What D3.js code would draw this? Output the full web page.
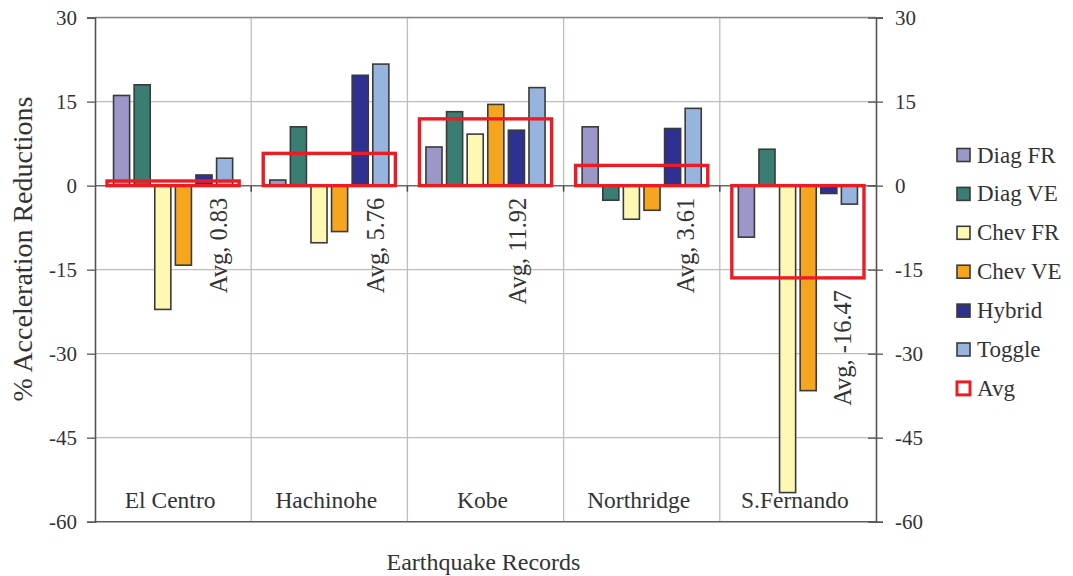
<!DOCTYPE html>
<html>
<head>
<meta charset="utf-8">
<script src="https://cdn.jsdelivr.net/npm/d3@7"></script>
<style>
  html, body { margin: 0; padding: 0; background: #ffffff; }
  svg { display: block; }
  text { font-family: "Liberation Serif", "Times New Roman", serif; fill: #333333; }
</style>
</head>
<body>
<svg id="chart" width="1073" height="576"></svg>
<script>
// ---- data ----
const categories = ["El Centro", "Hachinohe", "Kobe", "Northridge", "S.Fernando"];
const seriesNames = ["Diag FR", "Diag VE", "Chev FR", "Chev VE", "Hybrid", "Toggle"];
const diagFR = [16.1, 1.0, 6.9, 10.5, -9.2];
const diagVE = [18.0, 10.5, 13.2, -2.6, 6.5];
const chevFR = [-22.1, -10.2, 9.2, -6.0, -54.8];
const chevVE = [-14.2, -8.2, 14.5, -4.4, -36.6];
const hybrid = [1.9, 19.7, 9.9, 10.2, -1.4];
const toggle = [4.9, 21.7, 17.5, 13.8, -3.3];
const avgValues = [0.83, 5.76, 11.92, 3.61, -16.47];
const yTicks = [30, 15, 0, -15, -30, -45, -60];

const seriesValues = [diagFR, diagVE, chevFR, chevVE, hybrid, toggle];
const seriesColors = ["#9b97c9", "#3a7d72", "#fff8b2", "#f6a51e", "#2e3192", "#97b4df"];
const avgColor = "#ec1c24";

// ---- layout ----
const plotL = 95, plotR = 876, plotT = 17.6, plotB = 521.7;
const svg = d3.select("#chart");

const x = d3.scaleBand().domain(categories).range([plotL, plotR]).paddingInner(0).paddingOuter(0);
const xs = d3.scaleBand().domain(seriesNames).range([0, x.bandwidth()]).paddingInner(0.22).paddingOuter(0.9);
const xa = d3.scaleBand().domain(["Avg"]).range([0, x.bandwidth()]).paddingInner(0).paddingOuter(0.091);
const y = d3.scaleLinear().domain([-60, 30]).range([plotB, plotT]);
const fmtTick = d => String(d);
const fmtAvg = d => (d < 0 ? "-" : "") + Math.abs(d).toFixed(2);

// gridlines
const grid = svg.append("g");
grid.selectAll("line.h").data(yTicks.filter(d => d !== 0 && d !== -60)).join("line")
  .attr("x1", plotL).attr("x2", plotR)
  .attr("y1", d => y(d)).attr("y2", d => y(d))
  .attr("stroke", "#c4bcb8").attr("stroke-width", 1.3);
grid.selectAll("line.v").data(categories.slice(1)).join("line")
  .attr("x1", d => x(d)).attr("x2", d => x(d))
  .attr("y1", plotT).attr("y2", plotB)
  .attr("stroke", "#c4bcb8").attr("stroke-width", 1.3);

// bars
const barData = [];
categories.forEach((c, ci) => {
  seriesNames.forEach((s, si) => {
    barData.push({ c, s, v: seriesValues[si][ci], color: seriesColors[si] });
  });
});
svg.append("g").selectAll("rect").data(barData).join("rect")
  .attr("x", d => x(d.c) + xs(d.s))
  .attr("width", xs.bandwidth())
  .attr("y", d => y(Math.max(0, d.v)))
  .attr("height", d => Math.abs(y(d.v) - y(0)))
  .attr("fill", d => d.color)
  .attr("stroke", "#3a3a3a").attr("stroke-width", 1.6);

// axes lines
svg.append("line").attr("x1", plotL).attr("x2", plotR).attr("y1", y(0)).attr("y2", y(0))
  .attr("stroke", "#6e6a68").attr("stroke-width", 1.5);
svg.append("line").attr("x1", plotL).attr("x2", plotR).attr("y1", plotB).attr("y2", plotB)
  .attr("stroke", "#5a5a5a").attr("stroke-width", 1.6);
svg.append("line").attr("x1", plotL).attr("x2", plotR).attr("y1", plotT).attr("y2", plotT)
  .attr("stroke", "#8a8684").attr("stroke-width", 1.5);
// category ticks on zero line
svg.append("g").selectAll("line").data(categories.slice(1)).join("line")
  .attr("x1", d => x(d)).attr("x2", d => x(d))
  .attr("y1", y(0)).attr("y2", y(0) + 6)
  .attr("stroke", "#4a4a4a").attr("stroke-width", 1.5);

// avg boxes
svg.append("g").selectAll("rect").data(avgValues).join("rect")
  .attr("x", (d, i) => x(categories[i]) + xa("Avg"))
  .attr("width", xa.bandwidth())
  .attr("y", d => y(Math.max(0, d)))
  .attr("height", d => Math.abs(y(d) - y(0)))
  .attr("fill", "none")
  .attr("stroke", avgColor).attr("stroke-width", 3.4);

// left axis
const yAxisL = d3.axisLeft(y).tickValues(yTicks).tickSize(8).tickPadding(10).tickFormat(fmtTick);
const gL = svg.append("g").attr("transform", `translate(${plotL},0)`).call(yAxisL);
gL.select(".domain").attr("stroke", "#555").attr("stroke-width", 1.6);
gL.selectAll(".tick line").attr("stroke", "#555").attr("stroke-width", 1.3);
gL.selectAll(".tick text").attr("font-size", 21).attr("fill", "#333");

// right axis
const yAxisR = d3.axisRight(y).tickValues(yTicks).tickSize(7).tickPadding(12).tickFormat(fmtTick);
const gR = svg.append("g").attr("transform", `translate(${plotR},0)`).call(yAxisR);
gR.select(".domain").attr("stroke", "#555").attr("stroke-width", 1.6);
gR.selectAll(".tick line").attr("stroke", "#555").attr("stroke-width", 1.3).attr("x1", -8);
gR.selectAll(".tick text").attr("font-size", 21).attr("fill", "#333");

// category labels
svg.append("g").selectAll("text").data(categories).join("text")
  .attr("x", d => x(d) + x.bandwidth() / 2 - 3)
  .attr("y", 508)
  .attr("text-anchor", "middle")
  .attr("font-size", 23.5)
  .text(d => d);

// avg labels
const avgLabelDx = [45, 46, 32, 44, 45];
svg.append("g").selectAll("text").data(avgValues).join("text")
  .attr("transform", (d, i) => `translate(${x(categories[i]) + x.bandwidth() / 2 + avgLabelDx[i]},${y(Math.min(0, d)) + 12}) rotate(-90)`)
  .attr("text-anchor", "end")
  .attr("dominant-baseline", "central")
  .attr("font-size", 24.5)
  .text(d => `Avg, ${fmtAvg(d)}`);

// axis titles
svg.append("text").attr("x", (plotL + plotR) / 2 - 2).attr("y", 570)
  .attr("text-anchor", "middle").attr("font-size", 24).text("Earthquake Records");
svg.append("text").attr("transform", `translate(22,249) rotate(-90)`)
  .attr("text-anchor", "middle").attr("dominant-baseline", "central")
  .attr("font-size", 28).text("% Acceleration Reductions");

// legend
const legendItems = seriesNames.map((s, i) => ({ name: s, color: seriesColors[i], avg: false }))
  .concat([{ name: "Avg", color: "none", avg: true }]);
const lg = svg.append("g").selectAll("g").data(legendItems).join("g")
  .attr("transform", (d, i) => `translate(957,${155 + i * 38.9})`);
lg.append("rect")
  .attr("x", 0).attr("y", -6.5).attr("width", 13).attr("height", 13)
  .attr("fill", d => d.avg ? "#fff" : d.color)
  .attr("stroke", d => d.avg ? avgColor : "#3a3a3a")
  .attr("stroke-width", d => d.avg ? 3 : 1.6);
lg.append("text").attr("x", 20).attr("y", 0).attr("dominant-baseline", "central")
  .attr("font-size", 23).text(d => d.name);
</script>
</body>
</html>
